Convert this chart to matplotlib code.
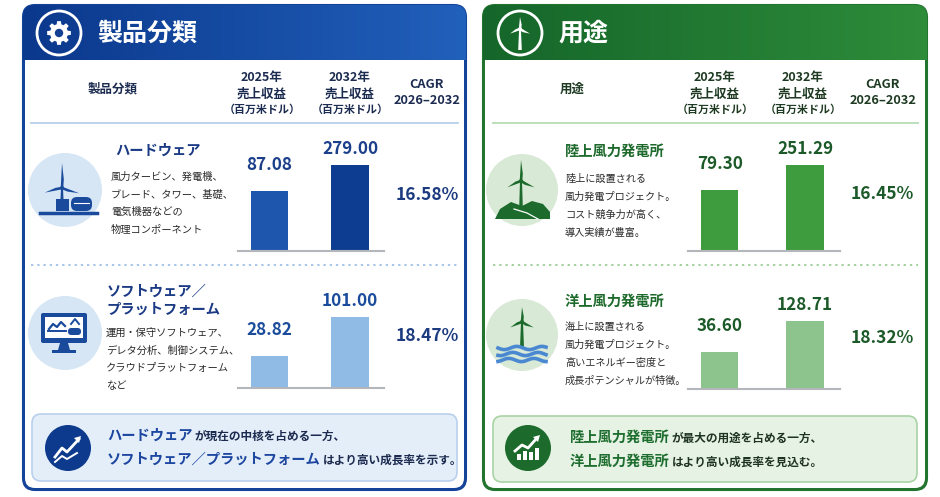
import matplotlib
matplotlib.use('Agg')
import numpy as np
import matplotlib.pyplot as plt
from matplotlib.patches import FancyBboxPatch, Rectangle, Circle, Polygon
from matplotlib.colors import LinearSegmentedColormap

plt.rcParams['font.family'] = ['Noto Sans CJK JP', 'DejaVu Sans']

# ---- data ----
col_heads = ['2025年\n売上収益', '2032年\n売上収益']
col_unit = '（百万米ドル）'
cagr_head = 'CAGR\n2026–2032'

seg_title = '製品分類'
seg_names = ['ハードウェア', 'ソフトウェア／\nプラットフォーム']
seg_desc = [['風力タービン、発電機、', 'ブレード、タワー、基礎、', '電気機器などの', '物理コンポーネント'],
            ['運用・保守ソフトウェア、', 'デレタ分析、制御システム、', 'クラウドプラットフォーム', 'など']]
seg_2025 = [87.08, 28.82]
seg_2032 = [279.00, 101.00]
seg_cagr = [16.58, 18.47]
seg_summary = [[('ハードウェア', True), ('が現在の中核を占める一方、', False)],
               [('ソフトウェア／プラットフォーム', True), ('はより高い成長率を示す。', False)]]

app_title = '用途'
app_names = ['陸上風力発電所', '洋上風力発電所']
app_desc = [['陸上に設置される', '風力発電プロジェクト。', 'コスト競争力が高く、', '導入実績が豊富。'],
            ['海上に設置される', '風力発電プロジェクト。', '高いエネルギー密度と', '成長ポテンシャルが特徴。']]
app_2025 = [79.30, 36.60]
app_2032 = [251.29, 128.71]
app_cagr = [16.45, 18.32]
app_summary = [[('陸上風力発電所', True), ('が最大の用途を占める一方、', False)],
               [('洋上風力発電所', True), ('はより高い成長率を見込む。', False)]]

W, H = 940, 497
fig = plt.figure(figsize=(9.4, 4.97), dpi=100)
fig.patch.set_facecolor('white')
ax = fig.add_axes([0, 0, 1, 1])
ax.axis('off')
renderer = fig.canvas.get_renderer()


def panel(x0, x1, y0, y1, c_left, c_right, border):
    outer = FancyBboxPatch((x0, y0), x1 - x0, y1 - y0,
                           boxstyle='round,pad=0,rounding_size=12',
                           fc=border, ec=border, lw=1.5, zorder=1)
    ax.add_patch(outer)
    grad = np.linspace(0, 1, 256).reshape(1, -1)
    cmap = LinearSegmentedColormap.from_list('hdr', [c_left, c_right])
    im = ax.imshow(grad, extent=(x0, x1, 60, y0), cmap=cmap, aspect='auto', zorder=1.5)
    im.set_clip_path(outer)
    ax.add_patch(FancyBboxPatch((x0 + 2, 60), x1 - x0 - 4, y1 - 62,
                                boxstyle='round,pad=0,rounding_size=10',
                                fc='white', ec='none', zorder=2))
    ax.add_patch(Rectangle((x0 + 2, 60), x1 - x0 - 4, 20, fc='white', ec='none', zorder=2))


def turbine(cx, hy, lens, angs, bottom, color, tw=2.0, bw=2.6, z=4):
    ax.add_patch(Polygon([(cx - tw * 0.5, hy), (cx + tw * 0.5, hy),
                          (cx + tw, bottom), (cx - tw, bottom)], fc=color, ec='none', zorder=z))
    for L, a in zip(lens, angs):
        r = np.radians(a)
        dx, dy = np.cos(r), -np.sin(r)
        px, py = -dy, dx
        tip = (cx + L * dx, hy + L * dy)
        ax.add_patch(Polygon([(cx + px * bw / 2, hy + py * bw / 2),
                              (cx + L * 0.35 * dx + px * bw * 0.7, hy + L * 0.35 * dy + py * bw * 0.7),
                              tip,
                              (cx - px * bw / 2, hy - py * bw / 2)], fc=color, ec='none', zorder=z))
    ax.add_patch(Circle((cx, hy), bw * 0.8, fc=color, ec='none', zorder=z))


def gear(cx, cy, ro, ri, n, color, hole):
    pts = []
    for i in range(n):
        a = 2 * np.pi * i / n
        for da, r in [(-0.26, ri), (-0.16, ro), (0.16, ro), (0.26, ri)]:
            pts.append((cx + r * np.cos(a + da), cy + r * np.sin(a + da)))
    ax.add_patch(Polygon(pts, fc=color, ec='none', zorder=4))
    ax.add_patch(Circle((cx, cy), hole, fc='#123f92', ec='none', zorder=5))


def bars(xl, xr, base_y, vals, lims, colors, txt_color, width, offs):
    h = 120
    a = fig.add_axes([xl / W, 1 - base_y / H, (xr - xl) / W, h / H])
    a.patch.set_alpha(0)
    lo, hi = lims
    a.bar([0, 1], np.array(vals) - lo, bottom=lo, width=width, color=colors, zorder=2)
    a.axhline(lo, color='#b3b6bb', lw=1.5, clip_on=False, zorder=3)
    for i, v in enumerate(vals):
        a.annotate(f'{v:.2f}', (i, v), xytext=(0, offs[i]), textcoords='offset points',
                   ha='center', va='bottom', fontsize=12.3, fontweight='bold', color=txt_color)
    xr_ = (-0.39, 1.42) if xl < 470 else (-0.37, 1.41)
    a.set_xlim(*xr_)
    a.set_ylim(lo, hi)
    a.axis('off')


def rich_line(x, y, pieces, hc, nc, hs, ns):
    for txt, hl in pieces:
        t = ax.text(x, y, txt, fontsize=hs if hl else ns, color=hc if hl else nc,
                    fontweight='bold', va='center', ha='left', zorder=6)
        bb = t.get_window_extent(renderer)
        x += bb.width + (2 if hl else 0)


def column_heads(xs, label_x, label, tc, line_x, line_c):
    ax.text(label_x, 89, label, fontsize=9, fontweight='bold', color=tc, ha='center', va='center', zorder=6)
    for x, head in zip(xs[:2], col_heads):
        ax.text(x, 86, head, fontsize=9, fontweight='bold', color=tc, ha='center', va='center',
                linespacing=1.3, zorder=6)
        ax.text(x, 110, col_unit, fontsize=7.9, fontweight='bold', color=tc, ha='center', va='center', zorder=6)
    ax.text(xs[2], 92, cagr_head, fontsize=9.2, fontweight='bold', color=tc, ha='center', va='center',
            linespacing=1.3, zorder=6)
    ax.plot(line_x, [123, 123], color=line_c, lw=1.3, zorder=6)


# ================= left panel =================
NAVY = '#1b3a85'
panel(23, 466, 5, 490, '#0b388c', '#2160bb', '#14449a')
ax.add_patch(Circle((59, 33), 22, fc='none', ec='white', lw=2, zorder=4))
gear(59, 33, 12, 9, 8, 'white', 4.2)
ax.text(97, 34, seg_title, fontsize=18, fontweight='bold', color='white', va='center', ha='left', zorder=4)
column_heads([262, 350, 427], 113, seg_title, '#1c2b50', [31, 458], '#b7d0ec')

# row icons
ax.add_patch(Circle((65, 190), 37, fc='#d6e6f5', ec='none', zorder=3))
turbine(62, 188, [25, 18, 18], [90, 195, 343], 210, '#1a4a9c')
ax.add_patch(Rectangle((56, 199), 13, 12, fc='#1a4a9c', ec='none', zorder=4))
ax.add_patch(FancyBboxPatch((71, 197), 21, 14, boxstyle='round,pad=0,rounding_size=6',
                            fc='#1a4a9c', ec='none', zorder=4))
ax.plot([74, 89], [203, 203], color='white', lw=0.8, zorder=5)
ax.plot([40, 97], [213, 213], color='#1a4a9c', lw=2.5, zorder=4)

ax.add_patch(Circle((65, 333), 37, fc='#d6e6f5', ec='none', zorder=3))
ax.add_patch(FancyBboxPatch((41, 313), 46, 30, boxstyle='round,pad=0,rounding_size=2',
                            fc='#1a4a9c', ec='none', zorder=4))
ax.add_patch(Rectangle((45, 317), 38, 21, fc='white', ec='none', zorder=5))
ax.add_patch(Polygon([(60, 343), (68, 343), (70, 350), (58, 350)], fc='#1a4a9c', ec='none', zorder=4))
ax.add_patch(Rectangle((52, 350), 24, 3, fc='#1a4a9c', ec='none', zorder=4))
ax.plot([49, 53, 57, 61, 65], [329, 324, 327, 322, 326], color='#1a4a9c', lw=1.6, zorder=6)
ax.plot([48, 66], [331, 331], color='#1a4a9c', lw=1.4, zorder=6)
ax.plot([71, 75, 79], [324, 319, 324], color='#1a4a9c', lw=1.4, zorder=6)
ax.add_patch(FancyBboxPatch((68, 328), 13, 7, boxstyle='round,pad=0,rounding_size=3.4',
                            fc='#1a4a9c', ec='none', zorder=6))

title_y = [151, [292, 310]]
desc_y0 = [177, 333]
for i in range(2):
    if i == 0:
        ax.text(115, 151, seg_names[i], fontsize=10.3, fontweight='bold', color=NAVY, va='center', zorder=6)
        dx = 111
    else:
        for k, ln in enumerate(seg_names[i].split('\n')):
            ax.text(107, title_y[1][k], ln, fontsize=10.3, fontweight='bold', color=NAVY, va='center', zorder=6)
        dx = 106
    for k, ln in enumerate(seg_desc[i]):
        ax.text(dx, desc_y0[i] + k * 17.6, ln, fontsize=7.4, color='#2b2b2b', va='center', zorder=6)
ax.plot([31, 458], [265, 265], color='#a9c6e8', lw=1.4, ls=(0, (1.2, 2)), zorder=6)

bars(238, 384, 251, [seg_2025[0], seg_2032[0]], (-355.8, 530), ['#1f56ad', '#0c3d90'], '#1b3f8a', 0.47, [12, 5])
bars(238, 384, 388, [seg_2025[1], seg_2032[1]], (-30.4, 191.7), ['#90bbe5', '#90bbe5'], '#1b4c9c', 0.47, [12, 5])
ax.text(427, 195, f'{seg_cagr[0]:.2f}%', fontsize=12.5, fontweight='bold', color='#1b3a80', ha='center', va='center', zorder=6)
ax.text(427, 336, f'{seg_cagr[1]:.2f}%', fontsize=12.5, fontweight='bold', color='#1b3a80', ha='center', va='center', zorder=6)

# summary
ax.add_patch(FancyBboxPatch((32, 414), 425, 67, boxstyle='round,pad=0,rounding_size=9',
                            fc='#e4eef9', ec='#b9d0ec', lw=1.2, zorder=3))
ax.add_patch(Circle((68, 448), 23, fc='#0d3a8c', ec='none', zorder=4))
ax.plot([55, 62, 67, 79], [457, 448, 452, 439], color='white', lw=2, zorder=5)
ax.add_patch(Polygon([(81, 436), (74, 438), (79, 443)], fc='white', ec='none', zorder=5))
ax.plot([55, 62, 67, 77], [462, 456, 459, 453], color='white', lw=1.4, zorder=5)
rich_line(107, 436, seg_summary[0], '#1c46a0', '#1b2a4e', 10.3, 8.4)
rich_line(107, 460, seg_summary[1], '#1c46a0', '#1b2a4e', 10.3, 8.4)

# ================= right panel =================
GREEN = '#1d6a2c'
panel(483, 927, 5, 490, '#15662a', '#2e8c3a', '#23742f')
ax.add_patch(Circle((520, 33), 22, fc='none', ec='white', lw=2, zorder=4))
turbine(520, 29, [12, 11, 11], [90, 205, 335], 50, 'white', tw=1.8, bw=2.4)
ax.text(558, 34, app_title, fontsize=18, fontweight='bold', color='white', va='center', ha='left', zorder=4)
column_heads([715, 803, 883], 572, app_title, '#1e3a22', [493, 918], '#b8dcb5')

ax.add_patch(Circle((522, 190), 36, fc='#d8e9d6', ec='none', zorder=3))
turbine(521, 181, [21, 15, 15], [90, 205, 335], 214, '#1d6b2c')
ax.add_patch(Polygon([(495, 219), (500, 209), (511, 202), (522, 206), (532, 201), (543, 204),
                      (550, 212), (550, 219)], fc='#1d6b2c', ec='none', zorder=4))
ax.plot([514, 527, 538], [209, 213, 219], color='white', lw=0.9, zorder=5)

ax.add_patch(Circle((522, 335), 36, fc='#d8e9d6', ec='none', zorder=3))
turbine(522, 322, [15, 13, 13], [90, 205, 335], 348, '#1d6b2c')
wx = np.linspace(498, 546, 60)
for k, yy in enumerate([348, 354, 360]):
    ax.plot(wx, yy + 1.6 * np.sin((wx - 498) / 4.0 + k), color='#4a89d2', lw=2.6, zorder=5)

app_title_y = [152, 302]
app_desc_y0 = [179, 327]
for i in range(2):
    ax.text(565, app_title_y[i], app_names[i], fontsize=10.3, fontweight='bold', color=GREEN, va='center', zorder=6)
    for k, ln in enumerate(app_desc[i]):
        ax.text(565, app_desc_y0[i] + k * 18, ln, fontsize=7.3, color='#2b2b2b', va='center', zorder=6)
ax.plot([493, 918], [265, 265], color='#a6d0a2', lw=1.4, ls=(0, (1.2, 2)), zorder=6)

bars(688, 840, 251, [app_2025[0], app_2032[0]], (-340, 485.3), ['#3f9c3e', '#3f9c3e'], '#1d5a29', 0.44, [12, 5])
bars(688, 840, 389, [app_2025[1], app_2032[1]], (-73.3, 283.2), ['#8dc48e', '#8dc48e'], '#1d5a29', 0.44, [12, 5])
ax.text(882, 194, f'{app_cagr[0]:.2f}%', fontsize=12.5, fontweight='bold', color='#1d5a29', ha='center', va='center', zorder=6)
ax.text(882, 338, f'{app_cagr[1]:.2f}%', fontsize=12.5, fontweight='bold', color='#1d5a29', ha='center', va='center', zorder=6)

ax.add_patch(FancyBboxPatch((493, 416), 424, 66, boxstyle='round,pad=0,rounding_size=9',
                            fc='#e6f2e4', ec='#a9d3a5', lw=1.2, zorder=3))
ax.add_patch(Circle((528, 448), 23, fc='#1c6b2c', ec='none', zorder=4))
for bx, bh in zip([517, 523, 529, 535], [6, 9, 8, 12]):
    ax.add_patch(Rectangle((bx, 460 - bh), 4, bh, fc='white', ec='none', zorder=5))
ax.plot([515, 522, 528, 537], [451, 445, 448, 438], color='white', lw=2, zorder=5)
ax.add_patch(Polygon([(540, 435), (533, 437), (538, 442)], fc='white', ec='none', zorder=5))
rich_line(570, 438, app_summary[0], '#1e6e2f', '#1f3322', 10.3, 8.4)
rich_line(570, 462, app_summary[1], '#1e6e2f', '#1f3322', 10.3, 8.4)

ax.set_xlim(0, W)
ax.set_ylim(H, 0)
fig.savefig('out.png', dpi=100, facecolor='white')
